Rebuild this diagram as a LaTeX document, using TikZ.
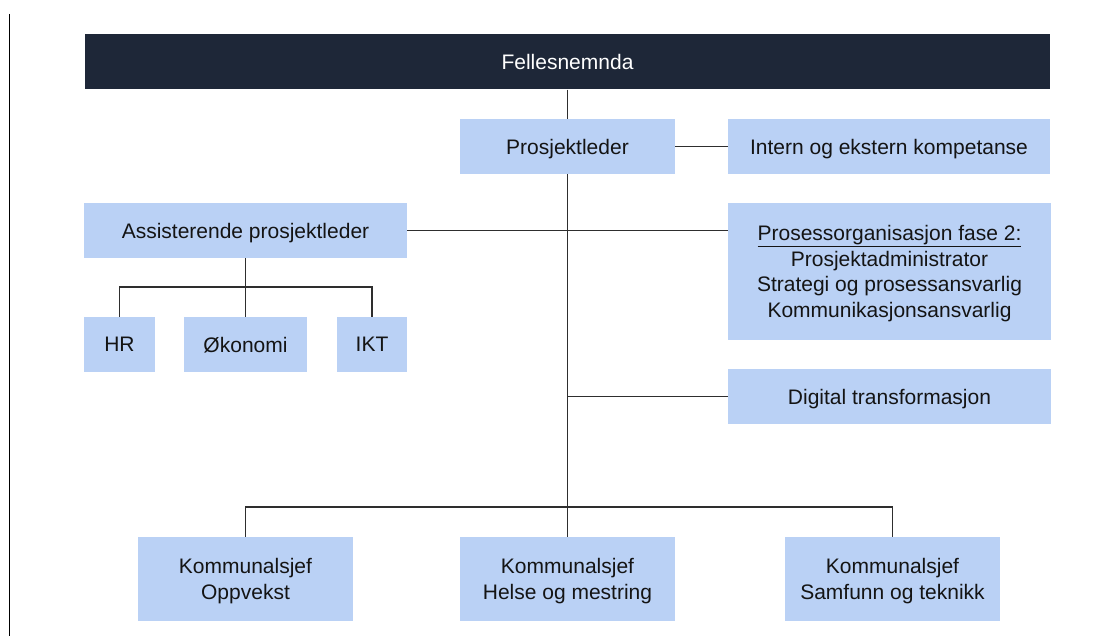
\documentclass[tikz,border=0pt]{standalone}
\usepackage{fontspec}
\setmainfont{Liberation Sans}
\definecolor{navy}{HTML}{1E2738}
\definecolor{lblue}{HTML}{BAD1F5}
\definecolor{ink}{HTML}{141414}
\definecolor{wire}{HTML}{2E2E2E}
\tikzset{
  orgbox/.style={fill=lblue, draw=none, inner sep=0pt, align=center, text=ink,
    text depth=-5pt, font=\fontsize{21}{25.5}\selectfont},
  topbar/.style={fill=navy, draw=none, inner sep=0pt, align=center, text=white,
    text depth=-5pt, font=\fontsize{21}{25.5}\selectfont},
  wireline/.style={draw=wire, line width=1.9pt}
}
\begin{document}
\begin{tikzpicture}[x=1pt,y=-1pt]
\useasboundingbox (0,0) rectangle (1115,636);
\draw[black, line width=1.8pt] (9.5,14) -- (9.5,636);
% nodes
\node[topbar, minimum width=965pt, minimum height=55pt] (fell) at (567.5,62) {Fellesnemnda};
\node[orgbox, minimum width=215pt, minimum height=55pt] (pl) at (567.5,146.5) {Prosjektleder};
\node[orgbox, minimum width=322pt, minimum height=55pt] (iek) at (889,146.5) {Intern og ekstern kompetanse};
\node[orgbox, minimum width=323pt, minimum height=55pt] (apl) at (245.5,230.5) {Assisterende prosjektleder};
\node[orgbox, minimum width=71pt, minimum height=55pt] (hr) at (119.5,344.5) {HR};
\node[orgbox, minimum width=123pt, minimum height=55pt, text height=15pt] (okn) at (245.5,344.5) {Økonomi};
\node[orgbox, minimum width=70pt, minimum height=55pt] (ikt) at (372,344.5) {IKT};
\node[orgbox, minimum width=323pt, minimum height=137pt] (pos) at (889.5,271.5)
  {\underline{Prosessorganisasjon fase 2:}\\Prosjektadministrator\\Strategi og prosessansvarlig\\Kommunikasjonsansvarlig};
\node[orgbox, minimum width=323pt, minimum height=55pt] (dig) at (889.5,396.5) {Digital transformasjon};
\node[orgbox, minimum width=215pt, minimum height=84pt] (opp) at (245.5,579) {Kommunalsjef\\Oppvekst};
\node[orgbox, minimum width=215pt, minimum height=84pt] (hel) at (567.5,579) {Kommunalsjef\\Helse og mestring};
\node[orgbox, minimum width=215pt, minimum height=84pt] (sam) at (892.5,579) {Kommunalsjef\\Samfunn og teknikk};
\coordinate (b1) at (245.5,287);
\coordinate (b2) at (567.5,507);
% connectors
\draw[wireline] (fell.south) -- (pl.north);
\draw[wireline] (pl.south) -- (hel.north);
\draw[wireline] (pl.east) -- (iek.west);
\draw[wireline] (apl.east) -- (apl.east -| pos.west);
\draw[wireline] (dig.west) -- (dig.west -| pl.south);
\draw[wireline] (apl.south) -- (okn.north);
\draw[wireline] (hr.north) |- (b1) -| (ikt.north);
\draw[wireline] (opp.north) |- (b2) -| (sam.north);
\end{tikzpicture}
\end{document}
